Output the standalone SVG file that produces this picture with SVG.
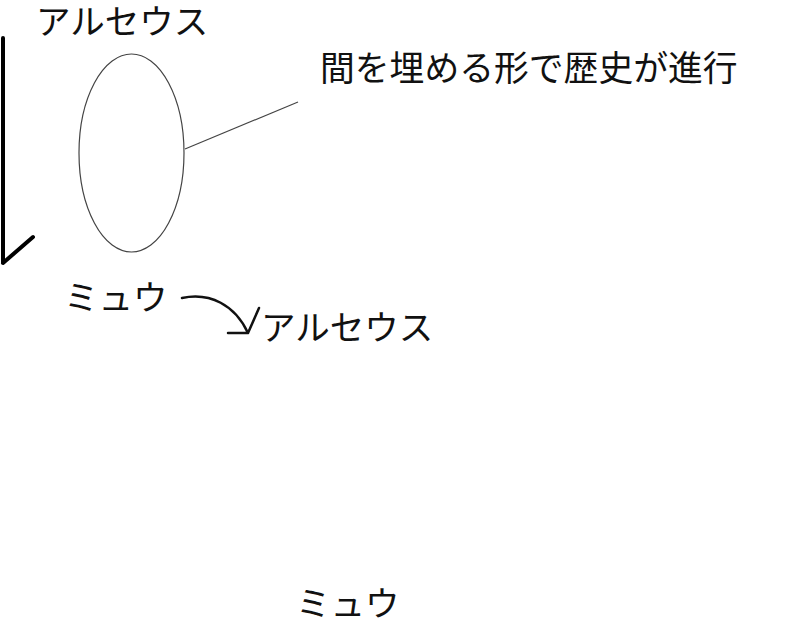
<svg xmlns="http://www.w3.org/2000/svg" width="800" height="618" viewBox="0 0 800 618">
<style>
  text { font-family: "Noto Sans CJK JP", "Noto Sans", sans-serif; font-size: 34.5px; fill: #111; }
  .big { font-size: 34.8px; }
  .thick { stroke: #000; stroke-width: 4; fill: none; stroke-linecap: round; }
  .hand { stroke: #111; stroke-width: 2.5; fill: none; stroke-linecap: round; stroke-linejoin: round; }
  .thin { stroke: #444; stroke-width: 1.2; fill: none; }
</style>
<rect width="800" height="618" fill="#fff"/>
<g id="connectors">
  <path class="thick" d="M3,38 L3,263 M3,263 L33,237"/>
  <path class="thin" d="M185,149 L298,102"/>
  <path class="hand" d="M182,298 C210,292 235,305 248,333 M228,333 L248,333 L259,308"/>
</g>
<g id="node-arceus-top"><text x="36" y="34">アルセウス</text></g>
<g id="node-ellipse"><ellipse class="thin" cx="131.5" cy="153" rx="52.5" ry="99"/></g>
<g id="node-label"><text class="big" x="320" y="81">間を埋める形で歴史が進行</text></g>
<g id="node-mew-1"><text x="64" y="310">ミュウ</text></g>
<g id="node-arceus-2"><text x="261" y="340">アルセウス</text></g>
<g id="node-mew-2"><text x="296" y="616">ミュウ</text></g>
</svg>
